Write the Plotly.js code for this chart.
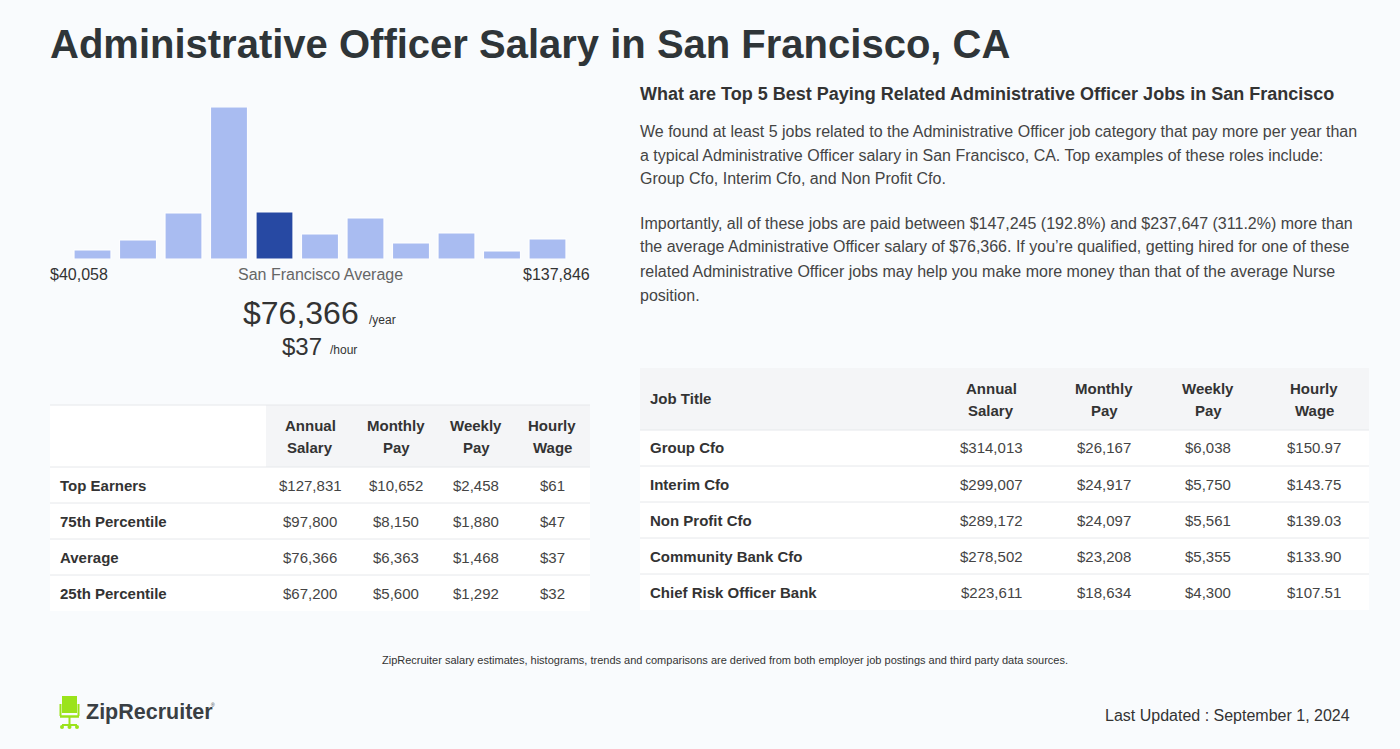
<!DOCTYPE html>
<html>
<head>
<meta charset="utf-8">
<script src="https://cdn.plot.ly/plotly-3.0.1.min.js"></script>
<style>
html,body{margin:0;padding:0;background:#f9fbfd;}
#chart{width:1400px;height:749px;}
</style>
</head>
<body>
<div id="chart"></div>
<script>
// ---------- DATA ----------
const histBins = ['b1','b2','b3','b4','b5','b6','b7','b8','b9','b10','b11'];
const histCounts = [9, 19, 46, 152, 47, 25, 41, 16, 26, 8, 20];
const highlightBin = 4;
const minSalary = '$40,058';
const maxSalary = '$137,846';
const avgYear = '$76,366';
const avgHour = '$37';

const leftHeaders = ['Annual<br>Salary', 'Monthly<br>Pay', 'Weekly<br>Pay', 'Hourly<br>Wage'];
const leftRowLabels = ['Top Earners', '75th Percentile', 'Average', '25th Percentile'];
const leftAnnual = ['$127,831', '$97,800', '$76,366', '$67,200'];
const leftMonthly = ['$10,652', '$8,150', '$6,363', '$5,600'];
const leftWeekly = ['$2,458', '$1,880', '$1,468', '$1,292'];
const leftHourly = ['$61', '$47', '$37', '$32'];

const rightHeaders = ['Annual<br>Salary', 'Monthly<br>Pay', 'Weekly<br>Pay', 'Hourly<br>Wage'];
const jobTitles = ['Group Cfo', 'Interim Cfo', 'Non Profit Cfo', 'Community Bank Cfo', 'Chief Risk Officer Bank'];
const jobAnnual = ['$314,013', '$299,007', '$289,172', '$278,502', '$223,611'];
const jobMonthly = ['$26,167', '$24,917', '$24,097', '$23,208', '$18,634'];
const jobWeekly = ['$6,038', '$5,750', '$5,561', '$5,355', '$4,300'];
const jobHourly = ['$150.97', '$143.75', '$139.03', '$133.90', '$107.51'];

const titleText = 'Administrative Officer Salary in San Francisco, CA';
const sideHeading = 'What are Top 5 Best Paying Related Administrative Officer Jobs in San Francisco';
const para1 = [
  'We found at least 5 jobs related to the Administrative Officer job category that pay more per year than',
  'a typical Administrative Officer salary in San Francisco, CA. Top examples of these roles include:',
  'Group Cfo, Interim Cfo, and Non Profit Cfo.'
];
const para2 = [
  'Importantly, all of these jobs are paid between $147,245 (192.8%) and $237,647 (311.2%) more than',
  'the average Administrative Officer salary of $76,366. If you\u2019re qualified, getting hired for one of these',
  'related Administrative Officer jobs may help you make more money than that of the average Nurse',
  'position.'
];
const footNote = 'ZipRecruiter salary estimates, histograms, trends and comparisons are derived from both employer job postings and third party data sources.';
const updated = 'Last Updated : September 1, 2024';

// ---------- LAYOUT HELPERS ----------
const W = 1400, H = 749;
const FONT = 'Liberation Sans, Arial, Helvetica, sans-serif';
const px = x => x / W;
const py = y => 1 - y / H;
const annotations = [];
const shapes = [];
function txt(x, y, text, size, color, anchor, bold) {
  annotations.push({
    xref: 'paper', yref: 'paper', x: px(x), y: py(y),
    xanchor: anchor || 'left', yanchor: 'middle',
    text: bold ? '<b>' + text + '</b>' : text,
    showarrow: false,
    font: {family: FONT, size: size, color: color || '#333'}
  });
}
function rect(x0, y0, x1, y1, fill) {
  shapes.push({type: 'rect', xref: 'paper', yref: 'paper', x0: px(x0), x1: px(x1), y0: py(y1), y1: py(y0),
    fillcolor: fill, line: {width: 0}, layer: 'below'});
}
function hline(x0, x1, y, color) {
  shapes.push({type: 'line', xref: 'paper', yref: 'paper', x0: px(x0), x1: px(x1), y0: py(y), y1: py(y),
    line: {color: color || '#e6e8eb', width: 1}, layer: 'below'});
}

// Title
txt(48, 44, titleText, 40, '#2f3538', 'left', true);

// Histogram labels
txt(48, 275, minSalary, 16, '#333', 'left');
txt(320, 275, 'San Francisco Average', 16, '#666', 'center');
txt(592, 275, maxSalary, 16, '#333', 'right');
txt(361, 313, avgYear, 32, '#333', 'right');
txt(367, 320, '/year', 12, '#333', 'left');
txt(324, 346, avgHour, 24, '#333', 'right');
txt(328, 350, '/hour', 12, '#333', 'left');

// Right text
txt(638, 94, sideHeading, 18, '#333', 'left', true);
para1.forEach((l, i) => txt(638, 131 + i * 24, l, 16, '#444', 'left'));
para2.forEach((l, i) => txt(638, 223 + i * 24, l, 16, '#444', 'left'));

// Left table
const LT = {x0: 50, x1: 590, hy0: 405, hy1: 467, rowH: 36, cols: [310, 396, 476, 552]};
rect(LT.x0, LT.hy0, LT.x1, LT.hy1 + LT.rowH * leftRowLabels.length, '#ffffff');
rect(266, LT.hy0, LT.x1, LT.hy1, '#f4f5f7');
hline(LT.x0, LT.x1, LT.hy0);
leftHeaders.forEach((h, j) => {
  h.split('<br>').forEach((part, k) => txt(LT.cols[j], 425 + k * 22, part, 15, '#333', 'center', true));
});
const leftCols = [leftAnnual, leftMonthly, leftWeekly, leftHourly];
leftRowLabels.forEach((lab, i) => {
  const yTop = LT.hy1 + i * LT.rowH, yc = yTop + LT.rowH / 2;
  hline(LT.x0, LT.x1, yTop);
  txt(58, yc, lab, 15, '#333', 'left', true);
  leftCols.forEach((col, j) => txt(LT.cols[j], yc, col[i], 15, '#444', 'center'));
});

// Right table
const RT = {x0: 640, x1: 1369, hy0: 368, hy1: 430, rowH: 36, cols: [991, 1104, 1208, 1314]};
rect(RT.x0, RT.hy0, RT.x1, RT.hy1 + RT.rowH * jobTitles.length, '#ffffff');
rect(RT.x0, RT.hy0, RT.x1, RT.hy1, '#f4f5f7');
txt(648, 399, 'Job Title', 15, '#333', 'left', true);
rightHeaders.forEach((h, j) => {
  h.split('<br>').forEach((part, k) => txt(RT.cols[j], 388 + k * 22, part, 15, '#333', 'center', true));
});
const rightCols = [jobAnnual, jobMonthly, jobWeekly, jobHourly];
jobTitles.forEach((lab, i) => {
  const yTop = RT.hy1 + i * RT.rowH, yc = yTop + RT.rowH / 2;
  hline(RT.x0, RT.x1, yTop);
  txt(648, yc, lab, 15, '#333', 'left', true);
  rightCols.forEach((col, j) => txt(RT.cols[j], yc, col[i], 15, '#444', 'center'));
});

// Footer
txt(725, 660, footNote, 11, '#333', 'center');
txt(1352, 715, updated, 16, '#333', 'right');

// Logo: chair icon + wordmark
const G = '#9be31b';
function prect(x0, y0, x1, y1) {
  shapes.push({type: 'rect', xref: 'paper', yref: 'paper', x0: px(x0), x1: px(x1), y0: py(y1), y1: py(y0),
    fillcolor: G, line: {width: 0}});
}
function pline(x0, y0, x1, y1, w) {
  shapes.push({type: 'line', xref: 'paper', yref: 'paper', x0: px(x0), x1: px(x1), y0: py(y0), y1: py(y1),
    line: {color: G, width: w || 2}});
}
prect(62, 696, 77, 713);
pline(60.5, 704, 60.5, 716, 2);
pline(78.5, 704, 78.5, 716, 2);
pline(60, 716.5, 79, 716.5, 2.5);
pline(69.5, 717, 69.5, 725, 2);
pline(62, 725, 77, 725, 2);
shapes.push({type: 'circle', xref: 'paper', yref: 'paper', x0: px(60), x1: px(64), y0: py(729), y1: py(725), fillcolor: G, line: {width: 0}});
shapes.push({type: 'circle', xref: 'paper', yref: 'paper', x0: px(75), x1: px(79), y0: py(729), y1: py(725), fillcolor: G, line: {width: 0}});
shapes.push({type: 'circle', xref: 'paper', yref: 'paper', x0: px(67.5), x1: px(71.5), y0: py(729), y1: py(725), fillcolor: G, line: {width: 0}});
txt(84, 712, 'ZipRecruiter', 21.5, '#3a3f44', 'left', true);
txt(209, 705, '\u00ae', 5, '#3a3f44', 'left');

// ---------- HISTOGRAM ----------
const barColors = histCounts.map((_, i) => i === highlightBin ? '#2749a3' : '#a9bcf1');
const trace = {
  type: 'bar', x: histBins, y: histCounts,
  marker: {color: barColors, line: {color: '#ffffff', width: 1}},
  hoverinfo: 'none'
};

const layout = {
  width: W, height: H,
  margin: {l: 0, r: 0, t: 0, b: 0},
  paper_bgcolor: '#f9fbfd', plot_bgcolor: 'rgba(0,0,0,0)',
  showlegend: false,
  bargap: 0.19,
  xaxis: {domain: [px(69.75), px(570.25)], range: [-0.5, 10.5], visible: false, fixedrange: true},
  yaxis: {domain: [py(259), py(107)], range: [0, 152], visible: false, fixedrange: true},
  annotations: annotations,
  shapes: shapes
};

Plotly.newPlot('chart', [trace], layout, {displayModeBar: false, staticPlot: true});
</script>
</body>
</html>
